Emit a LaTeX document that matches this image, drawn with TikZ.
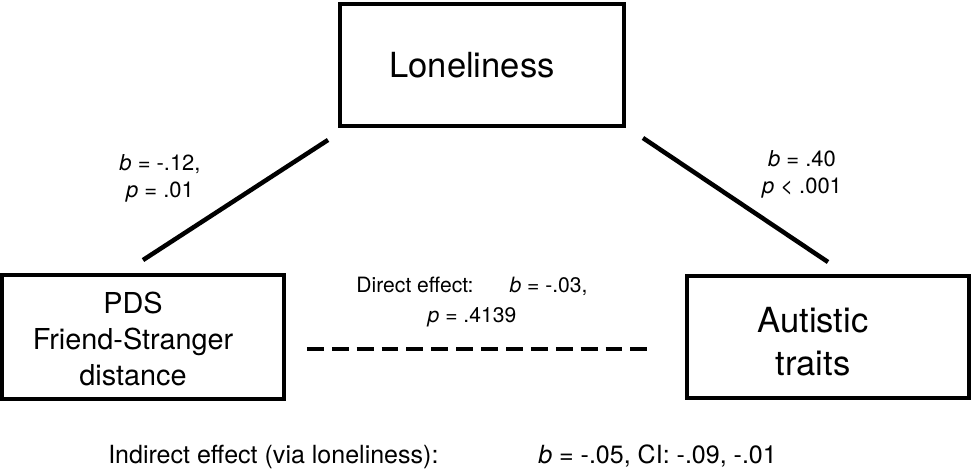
\documentclass[tikz,border=0pt]{standalone}
\usepackage{fontspec}
\setmainfont{TeX Gyre Heros}
\usetikzlibrary{positioning,calc}

\begin{document}
\begin{tikzpicture}[
    box/.style={draw, line width=2.5pt, inner sep=0pt},
    bigtxt/.style={font=\fontsize{24.6pt}{30.6pt}\selectfont, align=center, inner sep=0pt},
    midtxt/.style={font=\fontsize{20.5pt}{25.6pt}\selectfont, align=center, inner sep=0pt},
    coef/.style={font=\fontsize{15.6pt}{19.2pt}\selectfont, align=center, inner sep=0pt},
    dirtxt/.style={font=\fontsize{15pt}{21.3pt}\selectfont, align=center, inner sep=0pt},
    indtxt/.style={font=\fontsize{17.8pt}{21pt}\selectfont, anchor=base west, inner sep=0pt},
    link/.style={line width=3.2pt},
    dlink/.style={line width=2.8pt, dash pattern=on 12pt off 5.7pt}]
  \useasboundingbox (0,0) rectangle (24.325,-11.75);
  % ---------------- boxes ----------------
  \node[box, minimum width=7.1cm, minimum height=3.05cm] (lone) at (12.05,-1.625) {};
  \node[box, minimum width=7.05cm, minimum height=3.1cm] (pds) at (3.575,-8.425) {};
  \node[box, minimum width=7.05cm, minimum height=3.05cm] (auti) at (20.7,-8.425) {};
  \node[bigtxt] (loneT) at ([xshift=-0.25cm]lone.center) {Loneliness};
  \node[midtxt] (pdsT) at ([shift={(-0.25,-0.05)}]pds.center) {PDS\\ Friend-Stranger\\ distance};
  \node[bigtxt] (autiT) at ([shift={(-0.375,-0.11)}]auti.center) {Autistic\\ traits};
  % ---------------- paths ----------------
  \draw[link] ([shift={(-0.255,-0.305)}]lone.south west) -- ([yshift=0.33cm]pds.north);
  \draw[link] ([shift={(0.43,-0.255)}]lone.south east) -- ([yshift=0.305cm]auti.north);
  \draw[dlink, shorten <=0.53cm, shorten >=0.78cm] ([yshift=-0.3cm]pds.east) -- ([yshift=-0.3cm]auti.west);
  % ---------------- coefficients ----------------
  \node[coef] (aCoef) at (4.0,-4.45) {\textit{b} = -.12,\\ \textit{p} = .01};
  \node[coef] (bCoef) at (20.05,-4.35) {\textit{b} = .40\\ \textit{p} < .001};
  \node[dirtxt] (cCoef) at (11.8,-7.54) {Direct effect:\hspace{0.9cm}\textit{b} = -.03,\\ \textit{p} = .4139};
  \node[indtxt] (indir) at (2.7,-11.575) {Indirect effect (via loneliness):};
  \node[indtxt] (indirB) at (13.45,-11.575) {\textit{b} = -.05, CI: -.09, -.01};
\end{tikzpicture}
\end{document}
